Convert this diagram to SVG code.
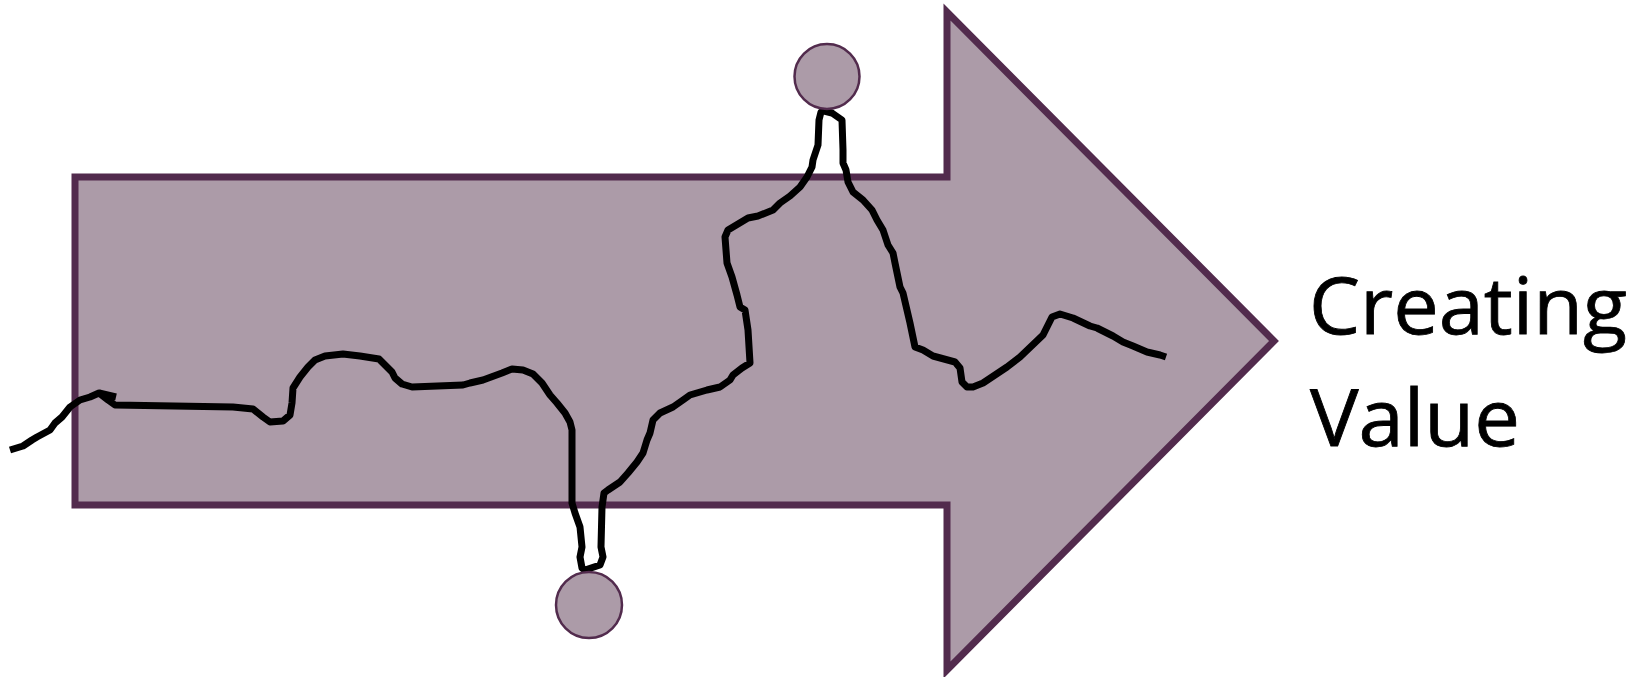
<svg xmlns="http://www.w3.org/2000/svg" width="1644" height="677" viewBox="0 0 1644 677">
<style>
.arrow{fill:#AC9BA8;stroke:#522B4D;stroke-width:7;stroke-linejoin:miter;stroke-miterlimit:10}
.dot{fill:#AC9BA8;stroke:#522B4D;stroke-width:2.5}
.path{fill:none;stroke:#000;stroke-width:7;stroke-linejoin:round;stroke-linecap:butt}
.label{font-family:"Open Sans","Noto Sans","Liberation Sans",sans-serif;font-size:78px;fill:#000;stroke:#000;stroke-width:0.8}
</style>
<rect width="1644" height="677" fill="#fff"/>
<g id="arrow">
<path class="arrow" d="M75,177 L947,177 L947,12 L1274,341 L947,670 L947,505 L75,505 Z"/>
</g>
<g id="connectors">
<path class="path" d="M10,450 L23,446 L32,440 L37,437 L50,430 L55,423 L62,417 L70,407 L80,400 L90,397 L99,393 L108,400 L115,405 L233,407 L253,409 L263,417 L270,422 L283,421 L290,415 L292,403 L293,388 L300,377 L308,367 L315,360 L325,356 L343,354 L360,356 L379,359 L385,365 L392,372 L395,378 L402,384 L412,387 L463,385 L470,383 L483,380 L502,373 L512,369 L523,370 L533,374 L542,383 L550,395 L557,403 L565,413 L570,422 L572,430 L572,503 L575,513 L580,527 L582,547 L580,557 L582,568 L585,570 L600,565 L603,557 L601,547 L602,507 L604,493 L608,490 L620,482 L628,473 L637,462 L643,453 L647,440 L650,433 L653,420 L660,413 L673,407 L683,400 L690,395 L707,390 L720,387 L730,380 L733,375 L742,368 L750,363 L748,330 L745,310 L740,307 L737,295 L732,277 L727,263 L725,237 L728,230 L748,218 L758,216 L773,210 L780,203 L790,196 L800,187 L807,177 L812,167 L813,160 L818,145 L819,120 L821,112 L824,111 L828,112 L832,113 L842,120 L843,150 L843,163 L846,170 L848,182 L853,192 L863,200 L872,210 L877,220 L883,230 L888,245 L893,253 L895,263 L900,287 L903,293 L910,323 L915,347 L923,350 L933,356 L955,362 L960,368 L962,382 L967,387 L973,387 L983,383 L1007,367 L1020,357 L1043,335 L1047,327 L1052,317 L1060,314 L1073,318 L1090,326 L1097,328 L1113,336 L1123,342 L1133,346 L1147,352 L1160,355 L1166,357"/>
<path class="path" d="M99,393 L116,397"/>
</g>
<g id="top-circle">
<circle class="dot" cx="827" cy="76.5" r="32.5"/>
</g>
<g id="bottom-circle">
<circle class="dot" cx="589" cy="605" r="33"/>
</g>
<g id="label">
<text class="label" x="1309" y="334" textLength="318" lengthAdjust="spacingAndGlyphs">Creating</text>
<text class="label" x="1310" y="446" textLength="210" lengthAdjust="spacingAndGlyphs">Value</text>
</g>
</svg>
